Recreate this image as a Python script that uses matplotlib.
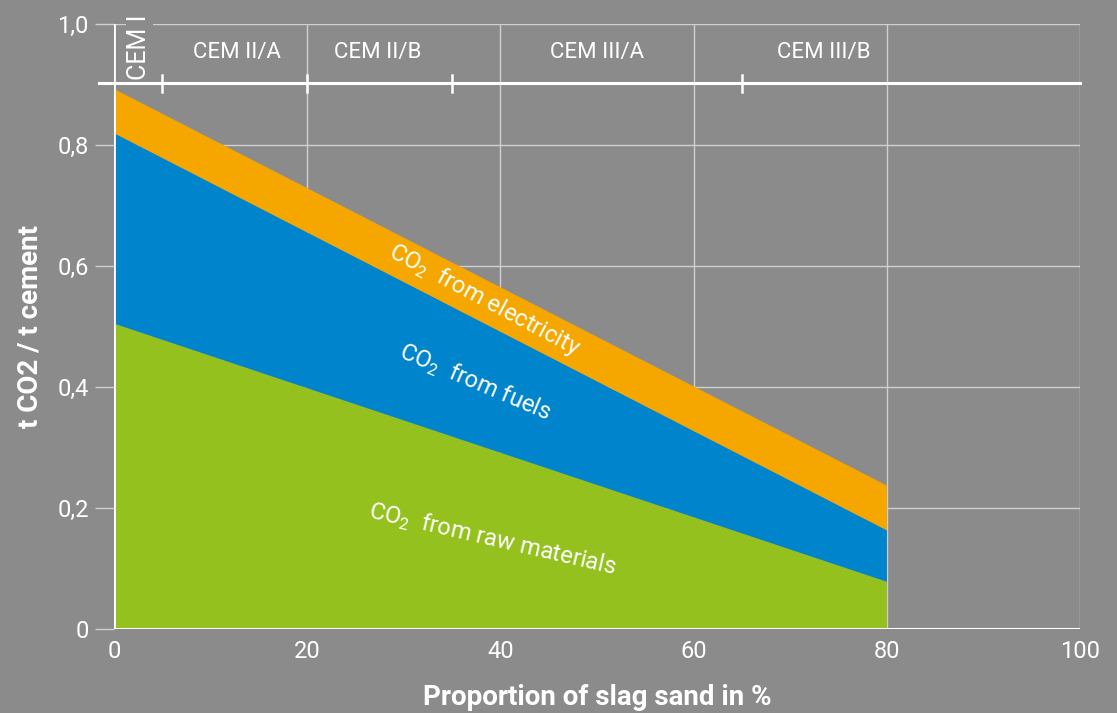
import matplotlib.pyplot as plt

plt.rcParams['font.family'] = ['Roboto', 'DejaVu Sans']
plt.rcParams['mathtext.fontset'] = 'custom'
plt.rcParams['mathtext.rm'] = 'Roboto'

# slag sand share (%) and CO2 contributions (t CO2 / t cement)
slag = [0, 80]
raw_materials = [0.505, 0.078]
fuels = [0.315, 0.085]
electricity = [0.073, 0.074]

cem_names = ['CEM I', 'CEM II/A', 'CEM II/B', 'CEM III/A', 'CEM III/B']
cem_pos = [2.6, 12.7, 27.3, 50, 73.5]
cem_bounds = [5, 20, 35, 65]

bg = '#8b8b8b'
grid_c = '#d0d0d0'
cols = ['#95c11f', '#0085cc', '#f5a700']

fig = plt.figure(figsize=(11.17, 7.13), dpi=100, facecolor=bg)
ax = fig.add_axes([0.102, 0.118, 0.865, 0.848], facecolor=bg)

ax.set_xlim(0, 100)
ax.set_ylim(0, 1.0)

# grid
for gx in [20, 40, 60, 80, 100]:
    ax.plot([gx, gx], [0, 1.0], color=grid_c, lw=1.0, zorder=1)
for gy in [0.2, 0.4, 0.6, 0.8, 1.0]:
    ax.plot([0, 100], [gy, gy], color=grid_c, lw=1.0, zorder=1)

ax.stackplot(slag, raw_materials, fuels, electricity, colors=cols, zorder=2)

# spines
for s in ax.spines.values():
    s.set_visible(False)
ax.plot([0, 0], [0, 1.0], color='white', lw=2, zorder=5)
ax.plot([0, 100], [0, 0], color='white', lw=2.2, zorder=3)

# CEM header row
ax.plot([-1.5, 100], [0.902, 0.902], color='white', lw=2.2, zorder=3, clip_on=False)
for b in cem_bounds:
    ax.plot([b, b], [0.888, 0.916], color='white', lw=1.8, zorder=3)
for name, p in zip(cem_names, cem_pos):
    if name == 'CEM I':
        ax.text(p, 0.962, name, rotation=90, ha='center', va='center', color='white',
                fontsize=18, zorder=4, clip_on=False,
                bbox=dict(facecolor=bg, edgecolor='none', pad=1))
    else:
        ax.text(p, 0.954, name, ha='center', va='center', color='white', fontsize=16, zorder=4)

# area labels
ax.text(38.4, 0.544, 'CO$_2$  from electricity', rotation=-28, ha='center', va='center',
        rotation_mode='anchor', color='white', fontsize=17, zorder=4)
ax.text(37.4, 0.407, 'CO$_2$  from fuels', rotation=-23, ha='center', va='center',
        rotation_mode='anchor', color='white', fontsize=17, zorder=4)
ax.text(39.2, 0.147, 'CO$_2$  from raw materials', rotation=-13, ha='center', va='center',
        rotation_mode='anchor', color='white', fontsize=17, zorder=4)

# ticks
ax.set_xticks([0, 20, 40, 60, 80, 100])
ax.set_xticklabels(['0', '20', '40', '60', '80', '100'])
ax.set_yticks([0, 0.2, 0.4, 0.6, 0.8, 1.0])
ax.set_yticklabels(['0', '0,2', '0,4', '0,6', '0,8', '1,0'])
ax.tick_params(axis='x', length=0, pad=8, labelcolor='white', labelsize=17)
ax.tick_params(axis='y', length=14, width=1.0, color=grid_c, pad=4,
               labelcolor='white', labelsize=17)

ax.set_xlabel('Proportion of slag sand in %', color='white', fontsize=20,
              fontweight='bold', labelpad=15)
ax.set_ylabel('t CO2 / t cement', color='white', fontsize=20,
              fontweight='bold', labelpad=10)

fig.savefig('out.png', dpi=100, facecolor=bg)
